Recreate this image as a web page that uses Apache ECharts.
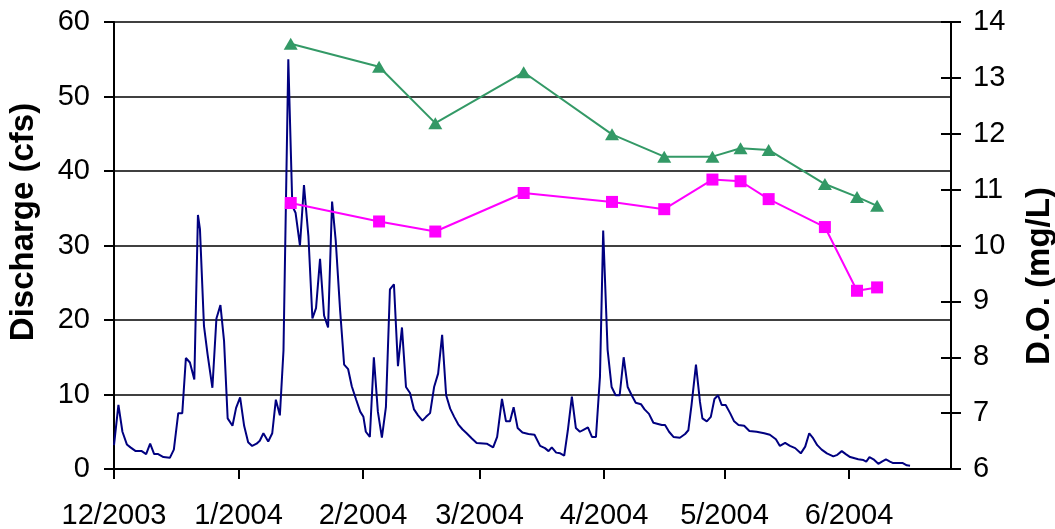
<!DOCTYPE html>
<html>
<head>
<meta charset="utf-8">
<script src="https://cdn.jsdelivr.net/npm/echarts@6/dist/echarts.min.js"></script>
<style>
html,body{margin:0;padding:0;background:#fff;}
#chart{width:1055px;height:529px;}
</style>
</head>
<body>
<div id="chart"></div>
<script>
// Days since 12/1/2003 (x positions on the date axis)
const monthTickDays = [0, 31, 62, 91, 122, 152, 183];
const monthTickLabels = ['12/2003', '1/2004', '2/2004', '3/2004', '4/2004', '5/2004', '6/2004'];
const axisMaxDay = 208.4;

// Discharge (cfs)
const dischargeDay = [0,1.1,2.1,3.2,4.1,5.4,6.9,8.0,9.0,10.0,11.0,12.3,13.9,14.9,16.0,17.0,17.9,18.9,20.0,20.9,21.4,22.4,23.3,24.5,25.5,26.5,27.4,28.3,29.5,30.4,31.4,32.4,33.4,34.4,35.5,36.3,37.2,38.4,39.4,40.3,41.3,42.2,43.4,44.4,45.2,46.3,47.3,48.4,49.4,50.3,51.3,52.3,53.3,54.3,55.2,56.3,57.3,58.3,59.2,60.3,61.3,62.1,62.7,63.7,64.7,65.7,66.7,67.7,68.7,69.7,70.7,71.7,72.7,73.7,74.7,75.7,76.8,77.7,78.7,79.7,80.7,81.7,82.7,83.7,84.7,85.7,86.8,87.8,89.1,90.3,92.8,94.4,95.4,96.6,97.6,98.6,99.5,100.5,101.7,103.2,104.7,106.1,107.3,108.2,109.0,110.1,111.1,112.1,113.0,114.0,115.0,116.0,117.0,118.0,119.0,120.0,121.0,121.8,122.9,123.9,124.9,125.9,126.9,127.9,128.9,129.9,131.2,132.1,133.2,134.3,136.4,137.2,138.2,139.3,140.9,142.2,143.0,143.8,144.9,145.9,146.5,147.6,148.6,149.5,150.4,151.3,152.3,153.4,154.4,155.5,156.9,158.2,160.0,161.9,163.3,164.8,165.8,167.1,168.3,169.6,171.0,172.1,173.1,174.1,175.1,176.2,177.5,179.1,180.1,181.2,182.2,183.3,185.3,186.6,187.3,188.1,189.1,190.3,191.2,192.2,193.2,194.0,196.4,197.4,198.2];
const dischargeCfs = [3.2,8.6,5.0,3.3,2.9,2.4,2.4,2.0,3.4,2.0,2.0,1.6,1.5,2.6,7.5,7.5,14.9,14.3,12.0,34.1,32.2,19.2,15.4,10.9,20.2,22.0,17.2,6.8,5.8,8.2,9.6,5.8,3.6,3.1,3.4,3.8,4.8,3.7,4.8,9.3,7.2,15.9,55.0,35.3,34.4,30.0,38.1,31.3,20.2,21.6,28.2,20.6,19.0,35.9,30.7,21.3,14.0,13.4,11.1,9.3,7.7,7.0,5.0,4.3,15.0,7.7,4.2,8.3,24.1,24.8,13.8,19.0,11.0,10.2,8.0,7.2,6.5,7.0,7.5,11.0,12.8,18.0,9.9,8.1,7.0,6.0,5.3,4.8,4.1,3.5,3.4,2.9,4.3,9.4,6.4,6.4,8.3,5.5,4.9,4.7,4.6,3.1,2.8,2.4,2.9,2.2,2.1,1.8,5.2,9.7,5.5,5.0,5.3,5.6,4.3,4.3,12.4,32.0,16.0,11.0,9.9,9.9,15.0,11.0,9.9,8.9,8.7,8.0,7.4,6.2,5.9,5.9,5.0,4.3,4.2,4.7,5.2,8.6,14.0,9.0,6.8,6.4,7.0,9.4,9.9,8.6,8.6,7.5,6.4,5.9,5.8,5.1,5.0,4.8,4.6,4.0,3.1,3.5,3.1,2.8,2.1,3.0,4.8,4.1,3.2,2.6,2.1,1.7,1.9,2.4,2.0,1.6,1.3,1.2,1.0,1.6,1.3,0.7,1.0,1.3,1.0,0.8,0.8,0.5,0.45];

// D.O. sampling (days since 12/1/2003) and values (mg/L)
const doDay = [44, 66, 80, 102, 124, 137, 149, 156, 163, 177, 185, 190];
const doGreen = [13.61, 13.2, 12.19, 13.1, 11.99, 11.59, 11.59, 11.74, 11.71, 11.10, 10.87, 10.71];
const doPink = [10.76, 10.43, 10.25, 10.94, 10.78, 10.65, 11.18, 11.15, 10.83, 10.33, 9.19, 9.25];

const leftTicks = [0, 10, 20, 30, 40, 50, 60];
const rightTicks = [6, 7, 8, 9, 10, 11, 12, 13, 14];
const leftTitle = 'Discharge (cfs)';
const rightTitle = 'D.O. (mg/L)';

const FONT = "'Liberation Sans', Arial, sans-serif";
const chart = echarts.init(document.getElementById('chart'), null, {renderer: 'canvas'});

const zip = (a, b) => a.map((v, i) => [v, b[i]]);

const option = {
  backgroundColor: '#fff',
  animation: false,
  grid: {left: 114, right: 104, top: 22, bottom: 60, containLabel: false, outerBoundsMode: 'none'},
  graphic: [
    {
      type: 'text', x: 24, y: 222, rotation: Math.PI / 2,
      style: {text: leftTitle, font: "bold 33px 'Liberation Sans', Arial, sans-serif", fill: '#000', align: 'center', verticalAlign: 'middle'}
    },
    {
      type: 'text', x: 1040, y: 276, rotation: Math.PI / 2,
      style: {text: rightTitle, font: "bold 33px 'Liberation Sans', Arial, sans-serif", fill: '#000', align: 'center', verticalAlign: 'middle'}
    }
  ],
  xAxis: {
    type: 'value',
    min: 0,
    max: axisMaxDay,
    axisLine: {show: true, onZero: false, lineStyle: {color: '#000', width: 2}},
    axisTick: {show: true, length: 10, customValues: monthTickDays, lineStyle: {color: '#000', width: 2}},
    axisLabel: {
      show: true, customValues: monthTickDays, margin: 32,
      fontFamily: FONT, fontSize: 29, color: '#000',
      formatter: function (v) { const i = monthTickDays.indexOf(Math.round(v)); return i >= 0 ? monthTickLabels[i] : ''; }
    },
    splitLine: {show: false}
  },
  yAxis: [
    {
      type: 'value', position: 'left', min: leftTicks[0], max: leftTicks[leftTicks.length - 1], interval: 10,
      axisLine: {show: true, lineStyle: {color: '#000', width: 2}},
      axisTick: {show: true, length: 10, lineStyle: {color: '#000', width: 2}},
      axisLabel: {margin: 24, fontFamily: FONT, fontSize: 29, color: '#000'},
      splitLine: {show: true, lineStyle: {color: '#000', width: 1.6}}
    },
    {
      type: 'value', position: 'right', min: rightTicks[0], max: rightTicks[rightTicks.length - 1], interval: 1,
      axisLine: {show: true, lineStyle: {color: '#000', width: 2}},
      axisTick: {show: true, length: 10, lineStyle: {color: '#000', width: 2}},
      axisLabel: {margin: 22, fontFamily: FONT, fontSize: 29, color: '#000'},
      splitLine: {show: false}
    },
    {
      type: 'value', position: 'right', min: rightTicks[0], max: rightTicks[rightTicks.length - 1], interval: 1,
      axisLine: {show: false},
      axisTick: {show: true, inside: true, length: 10, lineStyle: {color: '#000', width: 2}},
      axisLabel: {show: false},
      splitLine: {show: false}
    }
  ],
  series: [
    {
      name: 'Discharge', type: 'line', yAxisIndex: 0,
      data: zip(dischargeDay, dischargeCfs),
      showSymbol: false, symbol: 'none',
      lineStyle: {color: '#000080', width: 2},
      z: 2
    },
    {
      name: 'D.O. 1', type: 'line', yAxisIndex: 1,
      data: zip(doDay, doGreen),
      symbol: 'triangle', symbolSize: [14, 12],
      itemStyle: {color: '#339966'},
      lineStyle: {color: '#339966', width: 2},
      z: 3
    },
    {
      name: 'D.O. 2', type: 'line', yAxisIndex: 1,
      data: zip(doDay, doPink),
      symbol: 'rect', symbolSize: 12,
      itemStyle: {color: '#FF00FF'},
      lineStyle: {color: '#FF00FF', width: 2},
      z: 3
    }
  ]
};
chart.setOption(option);
</script>
</body>
</html>
